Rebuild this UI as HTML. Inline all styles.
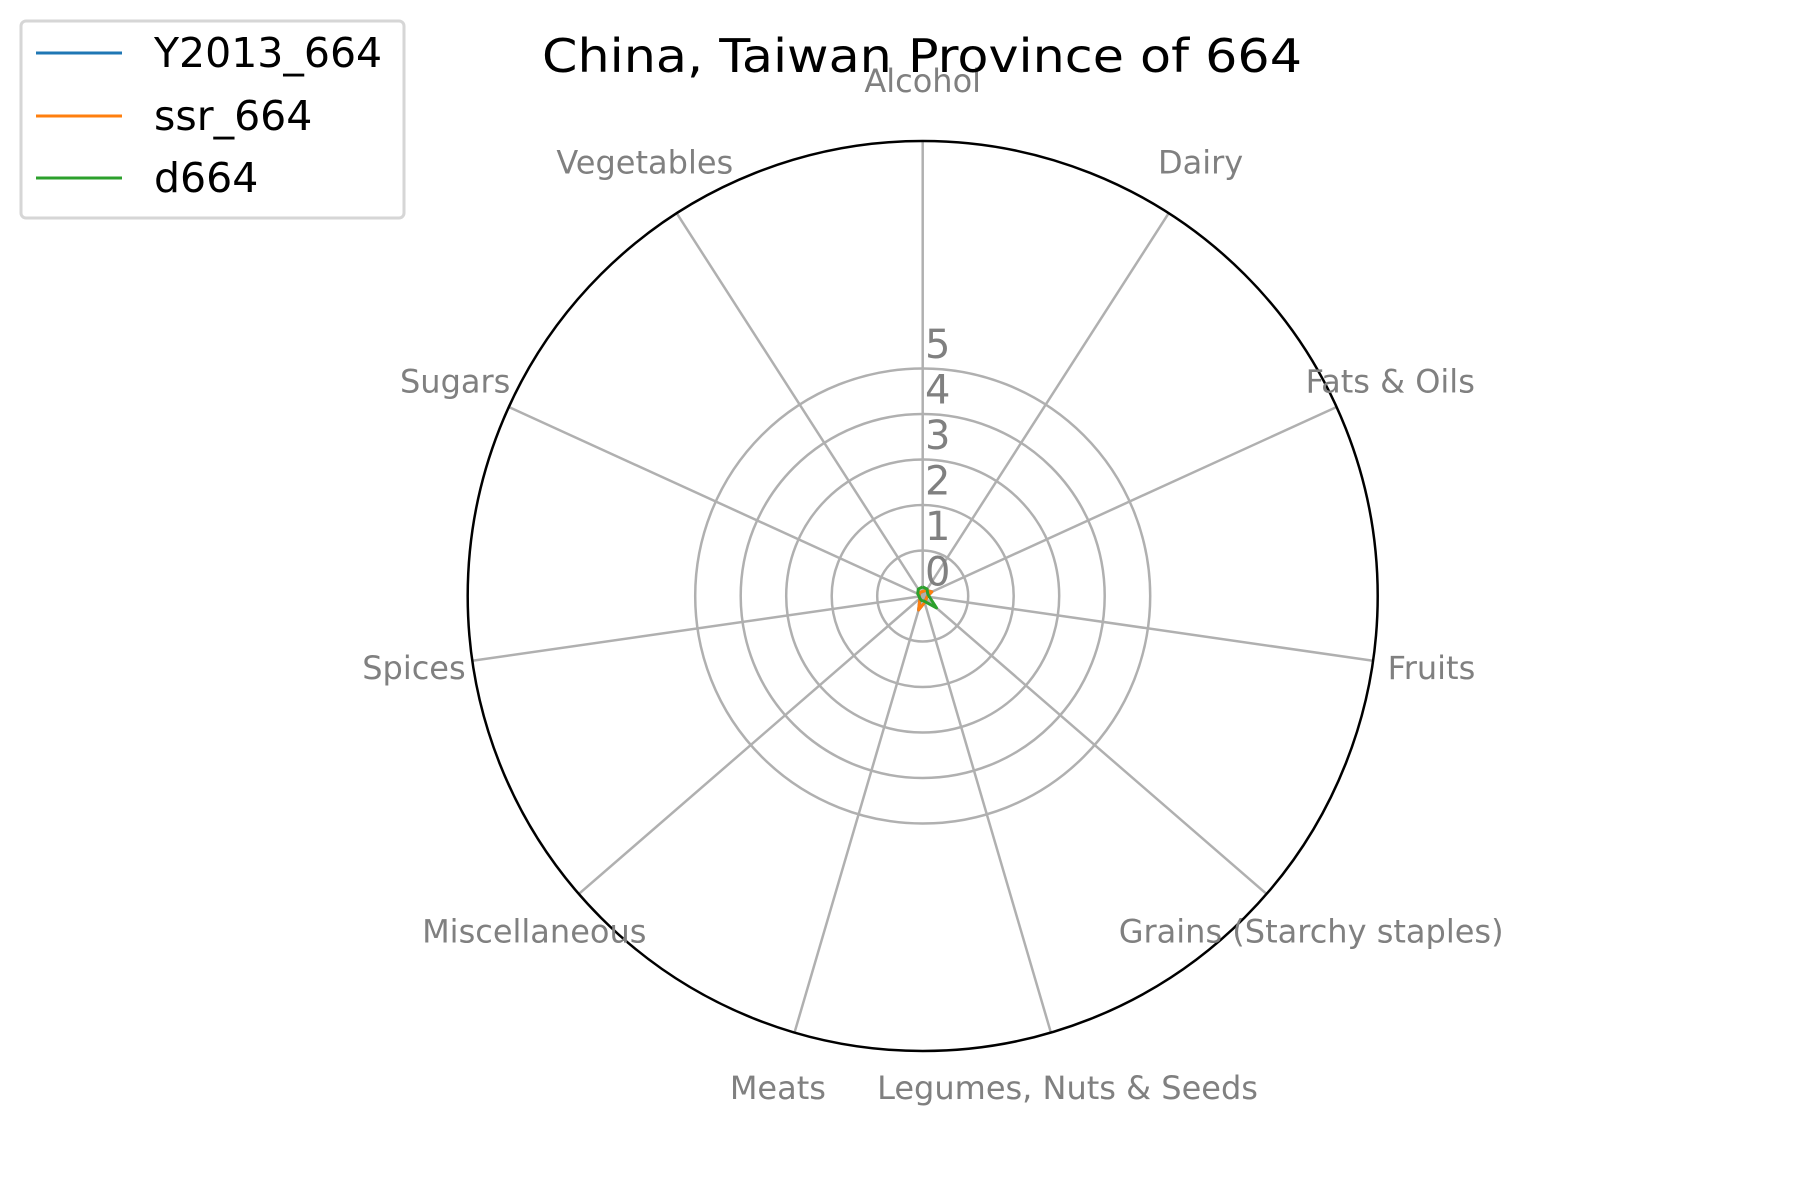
<!DOCTYPE html>
<html><head><meta charset="utf-8"><style>
html,body{margin:0;padding:0;background:#fff;}
svg{display:block;font-family:"DejaVu Sans","Liberation Sans",sans-serif;}
</style></head><body>
<svg id="chart" width="1800" height="1200" viewBox="0 0 1800 1200">
<rect width="1800" height="1200" fill="#fff"/>
<g id="grid"></g>
<g id="series"></g>
<g id="labels"></g>
<text x="922" y="72" text-anchor="middle" font-size="46" textLength="760" lengthAdjust="spacingAndGlyphs" fill="#000">China, Taiwan Province of 664</text>
<g>
<rect x="21" y="21" width="383" height="197" rx="5" fill="#fff" stroke="#d6d6d6" stroke-width="3"/>
<line x1="36" y1="53" x2="122" y2="53" stroke="#1f77b4" stroke-width="3"/>
<text x="154" y="67" font-size="41" fill="#000">Y2013_664</text>
<line x1="36" y1="116" x2="122" y2="116" stroke="#ff7f0e" stroke-width="3"/>
<text x="154" y="130" font-size="41" fill="#000">ssr_664</text>
<line x1="36" y1="178" x2="122" y2="178" stroke="#2ca02c" stroke-width="3"/>
<text x="154" y="192" font-size="41" fill="#000">d664</text>
</g>
</svg>
<script>
const categories = ["Alcohol","Dairy","Fats & Oils","Fruits","Grains (Starchy staples)","Legumes, Nuts & Seeds","Meats","Miscellaneous","Spices","Sugars","Vegetables"];
const seriesY2013 = [-0.9,-0.85,-0.78,-0.9,-0.9,-0.85,-0.68,-0.92,-0.92,-0.92,-0.9];
const seriesSsr = [-0.9,-0.85,-0.78,-0.9,-0.9,-0.85,-0.68,-0.92,-0.92,-0.92,-0.9];
const seriesD664 = [-0.8,-0.82,-0.88,-0.85,-0.6,-0.88,-0.9,-0.92,-0.92,-0.88,-0.82];
const ringValues = [0,1,2,3,4];
const tickLabels = ["0","1","2","3","4","5"];
const rMin = -1, rMax = 9;

const NS = "http://www.w3.org/2000/svg";
const cx = 922.7, cy = 596, R = 455;
function rScale(v){ return (v - rMin) / (rMax - rMin) * R; }
function angle(i){ return i / categories.length * 2 * Math.PI; }
function pt(i, r){ const a = angle(i); return [cx + r*Math.sin(a), cy - r*Math.cos(a)]; }
function mk(tag, attrs, parent){ const e = document.createElementNS(NS, tag); for (const k in attrs) e.setAttribute(k, attrs[k]); parent.appendChild(e); return e; }

const grid = document.getElementById('grid');
ringValues.forEach((v) => {
  const c = mk('circle', {cx:cx, cy:cy, r:rScale(v), fill:'none', stroke:'#b0b0b0', 'stroke-width':2.5}, grid);
  
  
});
categories.forEach((c, i) => {
  const p = pt(i, R);
  const l = mk('line', {x1:cx, y1:cy, x2:p[0], y2:p[1], stroke:'#b0b0b0', 'stroke-width':2.5}, grid);
  
  
});
const outer = mk('circle', {cx:cx, cy:cy, r:R, fill:'none', stroke:'#000', 'stroke-width':2.5}, grid);


tickLabels.forEach((t, k) => {
  const y = cy - rScale(k) + 35;
  const e = mk('text', {x:925, y:y, 'font-size':40, fill:'#808080'}, grid);
  e.textContent = t;
  
  
});

const sg = document.getElementById('series');
[[seriesY2013,'#1f77b4','series-y2013'],[seriesSsr,'#ff7f0e','series-ssr'],[seriesD664,'#2ca02c','series-d664']].forEach(([vals,col,name]) => {
  const pts = vals.map((v,i) => pt(i, rScale(v)));
  pts.push(pts[0]);
  const p = mk('polyline', {points: pts.map(q => q[0].toFixed(1)+','+q[1].toFixed(1)).join(' '), fill:'none', stroke:col, 'stroke-width':3, 'stroke-linejoin':'round'}, sg);
  
  
});

const lg = document.getElementById('labels');
categories.forEach((c, i) => {
  const p = pt(i, 514);
  const t = mk('text', {x:p[0], y:p[1]+10, 'text-anchor':'middle', 'font-size':32, fill:'#808080'}, lg);
  t.textContent = c;
  
  
});
</script>
</body></html>
